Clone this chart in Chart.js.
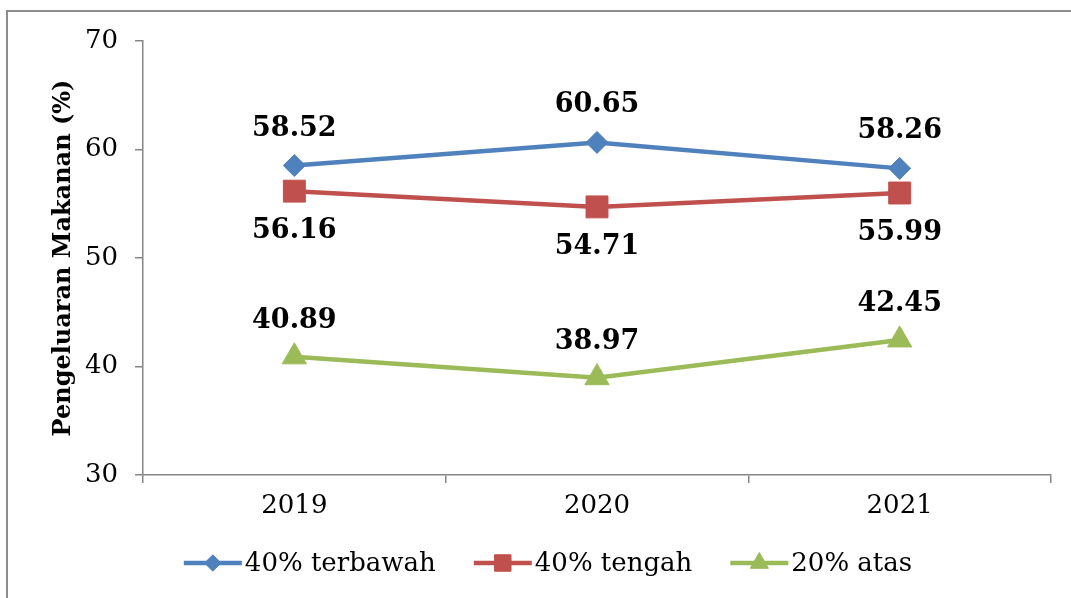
<!DOCTYPE html>
<html>
<head>
<meta charset="utf-8">
<script src="https://cdn.jsdelivr.net/npm/chart.js@4/dist/chart.umd.min.js"></script>
<style>
  html, body { margin: 0; padding: 0; background: #fff; overflow: hidden; }
  #wrap { position: relative; width: 1071px; height: 598px; }
  #frame { position: absolute; left: 6px; top: 10px; width: 1100px; height: 620px;
           border: 2px solid #8c8c8c; box-sizing: border-box; }
  #chartBox { position: absolute; left: 0; top: 0; width: 1071px; height: 598px; }
</style>
</head>
<body>
<div id="wrap">
  <div id="frame"></div>
  <div id="chartBox"><canvas id="foodChart"></canvas></div>
</div>
<script>
// data
const years = ['2019', '2020', '2021'];
const bottom40 = [58.52, 60.65, 58.26];
const middle40 = [56.16, 54.71, 55.99];
const top20 = [40.89, 38.97, 42.45];
const seriesNames = ['40% terbawah', '40% tengah', '20% atas'];
const yTicks = [30, 40, 50, 60, 70];

const serif = "'DejaVu Serif', 'Liberation Serif', serif";
const axisGray = '#868686';

// draws the value above / below each point
const valueLabels = {
    id: 'valueLabels',
    afterDatasetsDraw(chart) {
        const ctx = chart.ctx;
        ctx.save();
        ctx.font = 'bold 27px ' + serif;
        ctx.fillStyle = '#000';
        ctx.textAlign = 'center';
        ctx.textBaseline = 'middle';
        chart.data.datasets.forEach((ds, i) => {
            const meta = chart.getDatasetMeta(i);
            meta.data.forEach((pt, j) => {
                ctx.fillText(ds.data[j].toFixed(2), pt.x, pt.y + ds.labelOffset);
            });
        });
        ctx.restore();
    }
};

// legend at the bottom: line + marker + text, like the office style
const lineLegend = {
    id: 'lineLegend',
    afterDraw(chart) {
        const ctx = chart.ctx;
        const y = 563, lineLen = 58, gapText = 3, gapItem = 38;
        ctx.save();
        ctx.font = '26px ' + serif;
        ctx.textBaseline = 'middle';
        const items = chart.data.datasets.map(ds => ({ds, w: lineLen + gapText + ctx.measureText(ds.label).width}));
        const total = items.reduce((s, it) => s + it.w, 0) + gapItem * (items.length - 1);
        let x = 548 - total / 2;
        items.forEach(({ds, w}) => {
            ctx.strokeStyle = ds.borderColor;
            ctx.lineWidth = ds.borderWidth;
            ctx.beginPath();
            ctx.moveTo(x, y);
            ctx.lineTo(x + lineLen, y);
            ctx.stroke();
            ctx.fillStyle = ds.pointBackgroundColor;
            ctx.strokeStyle = ds.pointBorderColor;
            ctx.lineWidth = 1;
            Chart.helpers.drawPoint(ctx, {
                pointStyle: ds.pointStyle,
                radius: ds.pointRadius * 0.75,
                borderWidth: 1
            }, x + lineLen / 2, y);
            ctx.fillStyle = '#000';
            ctx.fillText(ds.label, x + lineLen + gapText, y + 1);
            x += w + gapItem;
        });
        ctx.restore();
    }
};

const colors = ['#4f81bd', '#c0504d', '#9bbb59'];

function makeSet(name, values, color, style, radius, offset) {
    return {
        label: name,
        data: values,
        borderColor: color,
        backgroundColor: color,
        pointBackgroundColor: color,
        pointBorderColor: color,
        borderWidth: 4.5,
        pointStyle: style,
        pointRadius: radius,
        pointHoverRadius: radius,
        pointBorderWidth: 1,
        tension: 0,
        labelOffset: offset
    };
}

const ctx = document.getElementById('foodChart').getContext('2d');
new Chart(ctx, {
    type: 'line',
    data: {
        labels: years,
        datasets: [
            makeSet(seriesNames[0], bottom40, colors[0], 'rectRot', 11, -37),
            makeSet(seriesNames[1], middle40, colors[1], 'rect', 15.5, 40),
            makeSet(seriesNames[2], top20, colors[2], 'triangle', 14, -36)
        ]
    },
    options: {
        responsive: true,
        maintainAspectRatio: false,
        animation: false,
        layout: { padding: { top: 41, right: 20, bottom: 73, left: 0 } },
        plugins: {
            legend: { display: false },
            tooltip: { enabled: false }
        },
        scales: {
            x: {
                offset: true,
                grid: {
                    offset: true,
                    drawOnChartArea: false,
                    color: axisGray,
                    lineWidth: 1.5,
                    tickLength: 8
                },
                border: { color: axisGray, width: 1.5 },
                ticks: {
                    color: '#000',
                    padding: 8,
                    maxRotation: 0,
                    font: { family: serif, size: 26 }
                },
                afterFit(scale) { scale.height = 50; }
            },
            y: {
                min: 30,
                max: 70,
                afterBuildTicks(scale) {
                    scale.ticks = yTicks.map(v => ({value: v}));
                },
                grid: {
                    drawOnChartArea: false,
                    color: axisGray,
                    lineWidth: 1.5,
                    tickLength: 8
                },
                border: { color: axisGray, width: 1.5 },
                ticks: {
                    color: '#000',
                    padding: 17,
                    font: { family: serif, size: 26 }
                },
                title: {
                    display: true,
                    text: 'Pengeluaran Makanan (%)',
                    color: '#000',
                    padding: { top: 49, bottom: 0 },
                    font: { family: serif, size: 24, weight: 'bold' }
                },
                afterFit(scale) { scale.width = 143; }
            }
        }
    },
    plugins: [valueLabels, lineLegend]
});
</script>
</body>
</html>
